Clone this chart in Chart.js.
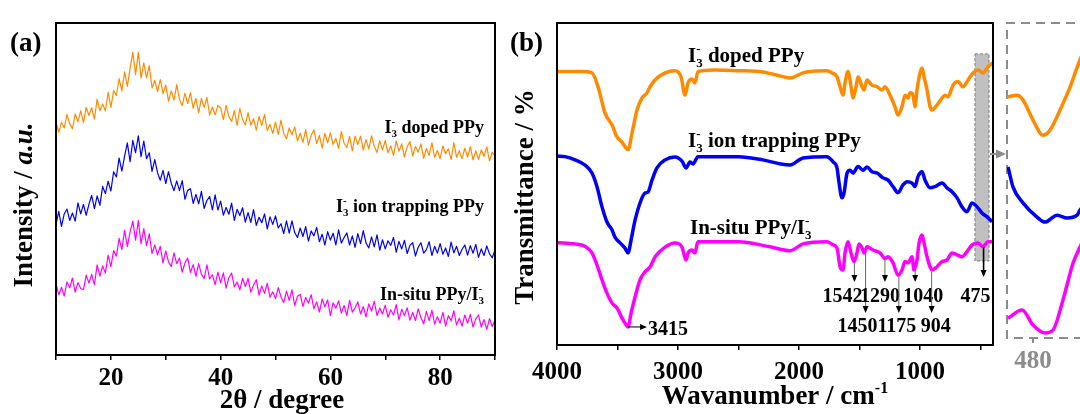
<!DOCTYPE html>
<html><head><meta charset="utf-8">
<script src="https://cdn.jsdelivr.net/npm/chart.js@4.4.0/dist/chart.umd.min.js"></script>
<style>
html,body{margin:0;padding:0;background:#fff;}
#wrap{position:relative;width:1080px;height:414px;overflow:hidden;background:#fff;}
canvas{position:absolute;left:0;top:0;}
</style></head><body>
<div id="wrap">
<canvas id="cA" width="1080" height="414"></canvas>
<canvas id="cB" width="1080" height="414"></canvas>
<canvas id="cC" width="1080" height="414"></canvas>
</div>
<script>
// ---------------- DATA ----------------
// (a) XRD, 2theta grid 10..90 step 0.5
const twoTheta = Array.from({length:161}, (_, i) => 10 + i * 0.5);
const xrdTickValues = [10,20,30,40,50,60,70,80,90];
const xrdTickLabels = [20,40,60,80];
const xrdDoped = [69.7,66.5,69.6,67.9,72.0,69.2,67.6,72.2,69.8,73.1,
 69.5,74.2,71.7,74.1,70.6,76.7,73.2,75.2,73.1,78.8,
 74.2,79.3,77.8,83.0,79.2,85.0,80.6,86.2,91.0,84.2,
 91.0,83.2,87.8,83.2,86.9,80.1,82.4,79.0,82.7,78.4,
 81.0,76.1,79.2,76.4,81.1,76.6,74.7,78.5,75.3,78.7,
 73.9,76.9,72.5,76.9,74.2,77.2,71.9,74.3,71.9,74.8,
 74.0,70.4,74.8,71.4,69.9,73.2,68.7,73.9,70.5,68.8,
 72.6,68.7,70.7,67.2,71.4,68.6,72.0,67.1,69.0,66.2,
 69.7,65.9,70.3,66.2,64.6,67.9,65.8,68.2,63.9,66.3,
 63.5,67.4,62.6,65.6,67.3,63.1,65.6,61.7,66.2,63.3,
 66.4,62.8,64.7,61.6,66.8,63.2,61.9,65.3,60.9,65.4,
 62.8,65.4,61.1,64.3,61.5,65.5,62.3,60.4,64.0,61.2,
 64.0,60.3,62.4,59.5,63.9,60.8,63.0,59.0,62.2,63.7,
 59.3,62.2,60.5,63.0,58.6,61.6,59.5,63.4,58.9,61.0,
 58.5,62.4,60.0,61.5,58.2,63.4,58.9,60.9,58.5,61.7,
 59.0,62.2,58.1,60.9,58.3,61.2,59.2,62.1,57.8,60.5,59.2];
const xrdTrap = [38.4,42.4,37.8,41.6,43.1,39.6,41.9,39.4,45.0,41.6,
 44.5,41.2,44.5,47.3,43.2,47.1,44.2,50.0,47.8,51.6,
 48.6,54.5,52.9,58.7,54.7,59.3,63.3,57.6,64.1,60.3,
 65.5,59.1,63.9,58.5,60.3,54.6,58.2,54.2,51.9,54.9,
 50.9,54.5,51.0,48.7,51.7,48.7,51.8,46.1,48.8,49.3,
 44.8,47.6,44.7,48.5,43.3,45.7,46.9,42.8,47.4,42.8,
 45.5,41.2,43.6,41.5,44.9,39.6,43.0,41.1,43.5,39.1,
 42.0,39.0,42.9,38.1,40.6,38.9,41.6,37.0,40.7,38.4,
 41.0,37.3,38.6,35.6,39.5,35.7,39.5,35.9,34.4,37.3,
 34.7,37.7,33.3,36.4,34.9,37.5,33.1,35.4,32.1,36.2,
 33.6,35.7,32.1,36.7,32.7,34.4,35.8,32.1,34.9,31.4,
 35.6,32.5,36.5,32.7,31.2,34.6,31.5,35.2,30.5,33.7,
 30.9,33.4,32.0,34.4,29.9,33.2,30.9,33.5,29.5,32.0,
 32.8,28.7,31.4,32.8,29.6,30.7,33.1,28.9,31.7,29.6,
 32.5,29.3,31.2,28.6,33.0,29.7,31.7,28.9,30.8,32.1,
 29.0,31.9,29.6,32.3,28.3,30.9,28.9,31.8,29.4,28.2,30.6];
const xrdInsitu = [20.4,16.9,19.2,16.5,20.8,19.0,22.0,17.7,20.6,18.8,
 18.4,22.9,20.5,23.1,20.0,26.0,22.6,25.7,23.5,29.0,
 25.5,30.4,28.7,34.1,30.7,36.6,31.6,36.1,39.4,33.6,
 39.6,32.5,37.1,31.9,35.5,29.5,32.1,29.1,31.7,26.6,
 30.3,27.0,25.5,29.7,26.4,28.1,23.8,26.6,28.1,23.7,
 26.1,22.5,26.4,23.1,21.9,26.0,21.7,23.0,20.0,23.8,
 20.6,23.6,18.9,22.1,23.5,19.3,20.8,18.4,21.9,19.4,
 21.9,17.7,19.9,21.5,16.8,19.6,17.3,20.4,16.1,17.8,
 15.7,19.1,16.2,14.5,18.0,15.2,18.4,13.6,16.4,17.0,
 13.3,16.1,14.3,16.9,12.6,14.7,11.6,15.6,13.2,15.3,
 10.5,14.4,12.8,15.0,11.3,13.6,10.5,15.2,11.6,12.9,
 14.7,11.0,13.3,10.1,14.1,11.9,14.9,10.5,12.8,11.0,
 13.7,10.0,12.3,10.7,13.9,9.2,12.5,10.5,12.9,9.1,
 11.5,9.0,12.6,9.9,8.0,11.8,9.0,12.2,7.9,10.2,
 8.2,11.5,7.3,10.5,8.9,12.0,7.6,9.7,7.3,10.7,
 8.2,10.9,7.0,9.5,10.7,7.0,9.3,6.3,9.6,7.2,9.1];

// (b) FTIR
const ftirTickValues = [4000,3500,3000,2500,2000,1500,1000,500];
const ftirTickLabels = [4000,3000,2000,1000];
const dopedWn = [4000,3800,3711,3661,3603,3545,3504,3463,3430,3413,3380,3339,3298,3256,3231,3190,3107,3025,2975,2942,2917,2884,2860,2835,2700,2500,2300,2150,2074,1967,1850,1769,1727,1686,1661,1636,1620,1595,1570,1554,1529,1512,1479,1463,1438,1397,1355,1314,1289,1248,1207,1182,1149,1124,1099,1083,1058,1042,1025,1000,983,967,942,917,901,860,818,793,769,727,686,645,603,562,521,479,438,400];
const dopedT = [84.9,84.9,84.5,80.2,72.0,68.3,64.6,63.0,61.2,60.6,65.8,73.0,76.7,78.3,80.2,82.3,84.5,85.2,83.3,77.6,81.4,82.6,81.4,84.9,85.4,85.2,84.8,83.5,82.9,84.5,85.1,85.2,84.5,83.3,80.2,77.6,81.4,84.9,80.2,76.7,80.2,83.3,80.2,79.2,82.3,80.7,80.2,79.2,80.2,77.6,74.0,71.4,74.0,77.6,76.7,78.3,77.6,74.0,79.2,84.5,86.0,83.3,79.2,74.0,73.0,74.5,76.7,77.6,77.1,80.7,81.8,80.2,82.3,84.5,85.4,84.5,86.4,87.6];
const trapWn = [4000,3934,3851,3769,3711,3669,3628,3587,3545,3521,3479,3438,3413,3388,3355,3314,3273,3248,3215,3174,3107,3025,2967,2934,2901,2876,2835,2500,2300,2150,2074,1967,1769,1719,1686,1669,1645,1628,1603,1578,1554,1512,1471,1438,1397,1355,1306,1264,1223,1182,1141,1107,1066,1042,1017,983,959,917,876,818,777,736,694,653,612,570,529,488,446,405];
const trapT = [58.7,58.5,57.5,55.9,53.4,49.1,42.9,38.2,35.7,33.5,31.7,30.1,28.6,32.6,38.8,44.1,47.2,47.5,51.2,55.0,57.5,58.4,57.1,55.0,56.8,56.2,58.5,58.5,57.5,56.2,55.9,58.1,58.5,56.9,55.0,50.3,45.7,47.2,53.4,54.3,53.4,55.4,54.3,55.3,53.8,53.4,51.9,51.2,49.2,47.3,49.7,50.7,50.3,49.2,52.3,53.8,51.2,48.8,49.2,50.3,48.8,47.6,45.7,42.9,41.4,44.1,42.9,41.0,39.8,38.3];
const insituWn = [4000,3851,3769,3711,3669,3628,3587,3545,3504,3463,3438,3413,3388,3355,3314,3273,3231,3190,3107,3025,2967,2934,2917,2884,2860,2835,2500,2240,2074,1967,1769,1719,1686,1661,1636,1620,1595,1570,1545,1521,1504,1479,1463,1438,1388,1331,1289,1264,1223,1182,1149,1124,1099,1066,1050,1025,1008,983,967,942,917,901,860,818,777,736,694,653,612,570,521,479,438,405];
const insituT = [31.8,31.4,30.7,28.6,24.8,20.2,16.1,13.0,11.5,8.4,6.8,5.6,9.9,14.9,20.2,22.7,24.2,27.3,30.4,31.7,30.4,26.4,28.6,29.5,28.6,32.1,32.1,30.5,29.3,31.4,32.1,31.1,30.1,24.3,23.3,28.6,32.1,28.6,25.9,28.6,31.4,30.1,28.6,30.5,29.5,28.6,26.9,27.4,25.5,21.7,23.3,25.9,25.5,27.4,23.3,26.4,31.7,34.2,31.7,27.4,24.3,23.3,24.3,25.9,26.4,28.6,28.0,27.4,29.0,31.1,31.7,30.5,32.1,32.1];
const peakWn = [1542,1450,1290,1175,1040,904,475];
const peakText = ['1542','1450','1290','1175','1040','904','475'];
const mainPeakWn = 3415;

// inset (zoom around 480 cm-1)
const insetTickValues = [480];
const insetDopedWn = [495.0,489.2,485.8,480.0,474.2,470.2,464.4,458.6,452.9,447.1];
const insetDopedT = [76.5,77.1,75.6,69.2,64.4,66.0,72.4,79.7,88.3,94.6];
const insetTrapWn = [494.4,491.5,485.8,477.7,473.1,466.1,460.4,454.6,452.9,447.1];
const insetTrapT = [54.3,47.9,42.9,38.4,36.8,39.0,38.1,39.0,40.6,43.8];
const insetInsituWn = [494.4,486.3,480.0,473.1,468.5,462.7,456.9,452.9,447.1];
const insetInsituT = [6.3,8.9,4.1,1.6,2.5,12.1,23.8,28.9,35.9];

// ---------------- STYLE / HELPERS ----------------
const ORANGE = '#ff8a00', BLUE = '#0000f5', MAGENTA = '#ff00ff', GREY = '#8c8c8c';
const SERIF = "'Liberation Serif','Times New Roman',serif";
Chart.defaults.font.family = SERIF;
function fnt(size, it){ return (it ? 'italic ' : '') + 'bold ' + size + 'px ' + SERIF; }
function xy(xs, ys){ return ys.map((y, i) => ({x: xs[i], y})); }
function richMeasure(ctx, parts, size){
  let w = 0;
  for (const p of parts){
    if (p.sup !== undefined || p.sub !== undefined){
      ctx.font = fnt(Math.round(size * 0.6));
      w += Math.max(ctx.measureText(p.sup || '').width, ctx.measureText(p.sub || '').width);
    } else { ctx.font = fnt(size, p.it); w += ctx.measureText(p.t).width; }
  }
  return w;
}
function richDraw(ctx, parts, x, y, size, align, color){
  const w = richMeasure(ctx, parts, size);
  let cx = align === 'right' ? x - w : align === 'center' ? x - w / 2 : x;
  ctx.fillStyle = color || '#000'; ctx.textAlign = 'left'; ctx.textBaseline = 'alphabetic';
  for (const p of parts){
    if (p.sup !== undefined || p.sub !== undefined){
      const s = Math.round(size * 0.6); ctx.font = fnt(s);
      let ww = 0;
      if (p.sup){ ctx.fillText(p.sup, cx, y - size * 0.42); ww = Math.max(ww, ctx.measureText(p.sup).width); }
      if (p.sub){ ctx.fillText(p.sub, cx, y + size * 0.22); ww = Math.max(ww, ctx.measureText(p.sub).width); }
      cx += ww;
    } else { ctx.font = fnt(size, p.it); ctx.fillText(p.t, cx, y); cx += ctx.measureText(p.t).width; }
  }
}
function rotText(ctx, parts, bx, cy, size){
  ctx.save(); ctx.translate(bx, cy); ctx.rotate(-Math.PI / 2);
  richDraw(ctx, parts, 0, 0, size, 'center'); ctx.restore();
}
function arrow(ctx, x1, y1, x2, y2, lc, hc, lw, hl, hw){
  const a = Math.atan2(y2 - y1, x2 - x1), c = Math.cos(a), s = Math.sin(a);
  ctx.save();
  ctx.strokeStyle = lc; ctx.lineWidth = lw; ctx.beginPath();
  ctx.moveTo(x1, y1); ctx.lineTo(x2 - c * hl * 0.7, y2 - s * hl * 0.7); ctx.stroke();
  ctx.fillStyle = hc; ctx.beginPath(); ctx.moveTo(x2, y2);
  ctx.lineTo(x2 - c * hl + s * hw, y2 - s * hl - c * hw);
  ctx.lineTo(x2 - c * hl - s * hw, y2 - s * hl + c * hw);
  ctx.closePath(); ctx.fill(); ctx.restore();
}
const I3 = {sup: '-', sub: '3'};
function frame(chart){
  const a = chart.chartArea, ctx = chart.ctx;
  ctx.save(); ctx.strokeStyle = '#000'; ctx.lineWidth = 2;
  ctx.strokeRect(a.left, a.top, a.right - a.left, a.bottom - a.top); ctx.restore();
}
function lineDs(xs, ys, color, w){
  return {data: xy(xs, ys), borderColor: color, borderWidth: w, pointRadius: 0, fill: false,
          tension: 0, cubicInterpolationMode: w > 2 ? 'monotone' : 'default', borderJoinStyle: 'round'};
}
function xScale(o){
  return Object.assign({type: 'linear', reverse: false,
    grid: {display: true, drawOnChartArea: false, drawTicks: true, tickLength: 5, color: '#000', lineWidth: 1.5},
    border: {display: false}}, o);
}
const baseOpts = {responsive: false, animation: false, events: [],
  plugins: {legend: {display: false}, tooltip: {enabled: false}}};

// ---------------- (a) XRD ----------------
new Chart(document.getElementById('cA'), {
  type: 'line',
  data: {datasets: [lineDs(twoTheta, xrdDoped, ORANGE, 1.2), lineDs(twoTheta, xrdTrap, BLUE, 1.2), lineDs(twoTheta, xrdInsitu, MAGENTA, 1.2)]},
  options: Object.assign({}, baseOpts, {
    layout: {padding: {left: 56, top: 23, right: 585, bottom: 0}},
    scales: {
      x: xScale({min: 10, max: 90,
        afterFit: s => { s.height = 59; },
        afterBuildTicks: s => { s.ticks = xrdTickValues.map(v => ({value: v})); },
        ticks: {font: {size: 25, weight: 'bold'}, color: '#000', padding: 4, maxRotation: 0, autoSkip: false,
          callback: v => xrdTickLabels.includes(v) ? String(v) : ''}}),
      y: {display: false, min: -1.53, max: 99.97}
    }
  }),
  plugins: [{id: 'deco', afterDraw(chart){
    const ctx = chart.ctx; frame(chart);
    richDraw(ctx, [{t: '(a)'}], 10, 51, 27, 'left');
    rotText(ctx, [{t: 'Intensity / '}, {t: 'a.u.', it: true}], 32, 205, 27);
    richDraw(ctx, [{t: '2θ / degree'}], 282, 408, 27, 'center');
    richDraw(ctx, [{t: 'I'}, I3, {t: ' doped PPy'}], 484, 133, 18, 'right');
    richDraw(ctx, [{t: 'I'}, I3, {t: ' ion trapping PPy'}], 484, 212, 18, 'right');
    richDraw(ctx, [{t: 'In-situ PPy/I'}, I3], 484, 300, 18, 'right');
  }}]
});

// ---------------- (b) FTIR ----------------
const peakLayout = [
  {from: 25.5, to: 19.6, row: 0, dx: -12},
  {from: 28.6, to: 9.9, row: 1, dx: -8},
  {from: 27.0, to: 19.6, row: 0, dx: -5},
  {from: 21.1, to: 9.9, row: 1, dx: -2},
  {from: 23.3, to: 19.6, row: 0, dx: 8},
  {from: 22.7, to: 9.9, row: 1, dx: 4},
  {from: 30.4, to: 21.1, row: 0, dx: -8, bold: true}
];
const rowBase = [13.3, 4.0];
new Chart(document.getElementById('cB'), {
  type: 'line',
  data: {datasets: [lineDs(dopedWn, dopedT, ORANGE, 3.5), lineDs(trapWn, trapT, BLUE, 3.5), lineDs(insituWn, insituT, MAGENTA, 3.5)]},
  options: Object.assign({}, baseOpts, {
    layout: {padding: {left: 557, top: 23, right: 87, bottom: 0}},
    scales: {
      x: xScale({min: 397, max: 4000, reverse: true,
        afterFit: s => { s.height = 69; },
        afterBuildTicks: s => { s.ticks = ftirTickValues.map(v => ({value: v})); },
        ticks: {font: {size: 25, weight: 'bold'}, color: '#000', padding: 8, maxRotation: 0, autoSkip: false,
          callback: v => ftirTickLabels.includes(v) ? String(v) : ''}}),
      y: {display: false, min: 0, max: 100}
    }
  }),
  plugins: [{id: 'deco',
    beforeDatasetsDraw(chart){
      const ctx = chart.ctx, xs = chart.scales.x, ys = chart.scales.y;
      const x1 = xs.getPixelForValue(546), x2 = xs.getPixelForValue(430);
      const y1 = ys.getPixelForValue(90.4), y2 = ys.getPixelForValue(26.1);
      ctx.save(); ctx.fillStyle = '#c0c0c0'; ctx.fillRect(x1, y1, x2 - x1, y2 - y1);
      ctx.setLineDash([3, 2]); ctx.strokeStyle = '#7a7a7a'; ctx.lineWidth = 1;
      ctx.strokeRect(x1, y1, x2 - x1, y2 - y1); ctx.restore();
    },
    afterDraw(chart){
      const ctx = chart.ctx, xs = chart.scales.x, ys = chart.scales.y;
      frame(chart);
      richDraw(ctx, [{t: '(b)'}], 510, 51, 27, 'left');
      rotText(ctx, [{t: 'Transmittance / %'}], 533, 197, 27);
      richDraw(ctx, [{t: 'Wavanumber / cm'}, {sup: '-1'}], 775, 404, 27, 'center');
      richDraw(ctx, [{t: 'I'}, I3, {t: ' doped PPy'}], 688, 62, 21, 'left');
      richDraw(ctx, [{t: 'I'}, I3, {t: ' ion trapping PPy'}], 688, 147, 21, 'left');
      richDraw(ctx, [{t: 'In-situ PPy/I'}, I3], 690, 234, 21, 'left');
      // peak markers
      peakWn.forEach((wn, i) => {
        const L = peakLayout[i], px = xs.getPixelForValue(wn);
        arrow(ctx, px, ys.getPixelForValue(L.from), px, ys.getPixelForValue(L.to),
              L.bold ? '#000' : '#666', '#000', L.bold ? 1.6 : 1, 7, 3);
        richDraw(ctx, [{t: peakText[i]}], px + L.dx, ys.getPixelForValue(rowBase[L.row]), 20, 'center');
      });
      const mx = xs.getPixelForValue(mainPeakWn - 2), my = ys.getPixelForValue(5.6);
      arrow(ctx, mx, my, mx + 19, my, '#000', '#000', 1, 7, 3);
      richDraw(ctx, [{t: String(mainPeakWn)}], mx + 20, ys.getPixelForValue(3.1), 20, 'left');
      // link arrow to inset
      const ly = ys.getPixelForValue(59.3);
      arrow(ctx, xs.getPixelForValue(430) + 1, ly, 1006, ly, GREY, GREY, 2, 10, 4.5);
    }
  }]
});

// ---------------- inset ----------------
new Chart(document.getElementById('cC'), {
  type: 'line',
  data: {datasets: [lineDs(insetDopedWn, insetDopedT, ORANGE, 3.5), lineDs(insetTrapWn, insetTrapT, BLUE, 3.5), lineDs(insetInsituWn, insetInsituT, MAGENTA, 3.5)]},
  options: Object.assign({}, baseOpts, {
    layout: {padding: {left: 1007, top: 23, right: 0, bottom: 0}},
    scales: {
      x: xScale({min: 452.9, max: 495, reverse: true,
        afterFit: s => { s.height = 76; },
        afterBuildTicks: s => { s.ticks = insetTickValues.map(v => ({value: v})); },
        grid: {display: true, drawOnChartArea: false, drawTicks: true, tickLength: 5, color: GREY, lineWidth: 2},
        ticks: {font: {size: 25, weight: 'bold'}, color: GREY, padding: 4, maxRotation: 0, autoSkip: false}}),
      y: {display: false, min: 0, max: 100}
    }
  }),
  plugins: [{id: 'box', beforeDatasetsDraw(chart){
    const a = chart.chartArea, ctx = chart.ctx;
    ctx.save(); ctx.strokeStyle = GREY; ctx.lineWidth = 2; ctx.setLineDash([9, 6]);
    ctx.beginPath();
    ctx.moveTo(1090, a.top); ctx.lineTo(a.left, a.top); ctx.lineTo(a.left, a.bottom); ctx.lineTo(1090, a.bottom);
    ctx.stroke(); ctx.restore();
  }}]
});
</script>
</body></html>
